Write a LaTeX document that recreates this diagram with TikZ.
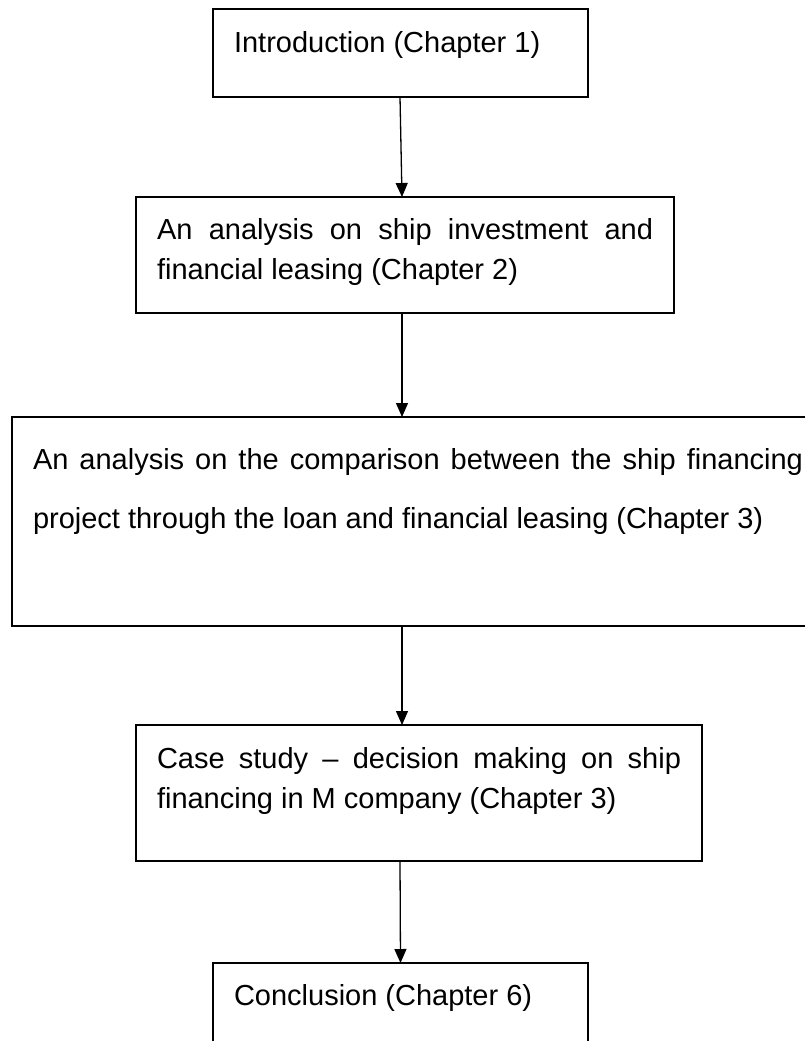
\documentclass[tikz,border=0pt]{standalone}
\usepackage{fontspec}
\setmainfont{Liberation Sans}
\usetikzlibrary{arrows.meta}

\hyphenpenalty=10000
\exhyphenpenalty=10000
\tolerance=10000

% box contents: height, text width, top gap, text
\newcommand{\stagetext}[4]{\parbox[c][#1][t]{#2}{\vspace*{#3}\rule{0pt}{24pt}#4}}

\begin{document}
\begin{tikzpicture}[x=1pt, y=-1pt,
    stage/.style={draw, line width=1.5pt, inner xsep=21pt, inner ysep=0pt,
        outer sep=0pt, anchor=north west, font=\fontsize{29}{40}\selectfont},
    flow/.style={-{Triangle[length=14pt,width=12pt]}, line width=1.3pt}]
    \useasboundingbox (0,0) rectangle (805,1041);
    \clip (0,0) rectangle (805,1041);

    \node[
        stage,
        name=intro
    ] at (213,9) {\stagetext{88pt}{333pt}{19pt}{Introduction (Chapter 1)}};
    \node[
        stage,
        name=invest
    ] at (136,197) {\stagetext{116pt}{496pt}{18pt}{An analysis on ship investment and financial leasing (Chapter 2)}};
    \node[
        stage,
        font=\fontsize{29}{59}\selectfont,
        name=compare
    ] at (12,417) {\stagetext{209pt}{770pt}{28pt}{An analysis on the comparison between the ship financing project through the loan and financial leasing (Chapter 3)}};
    \node[
        stage,
        name=casestudy
    ] at (136,725) {\stagetext{136pt}{524pt}{19pt}{Case study \textendash{} decision making on ship financing in M company (Chapter 3)}};
    \node[
        stage,
        name=conclusion
    ] at (213,963) {\stagetext{110pt}{333pt}{18pt}{Conclusion (Chapter 6)}};

    \draw[flow] ([xshift=-0.5pt]intro.south) -- ([xshift=-3pt]invest.north);
    \draw[flow] ([xshift=-3pt]invest.south) -- ([xshift=-16pt]compare.north);
    \draw[flow] ([xshift=-16pt]compare.south) -- ([xshift=-17pt]casestudy.north);
    \draw[flow] ([xshift=-19pt]casestudy.south) -- (conclusion.north);
\end{tikzpicture}
\end{document}
